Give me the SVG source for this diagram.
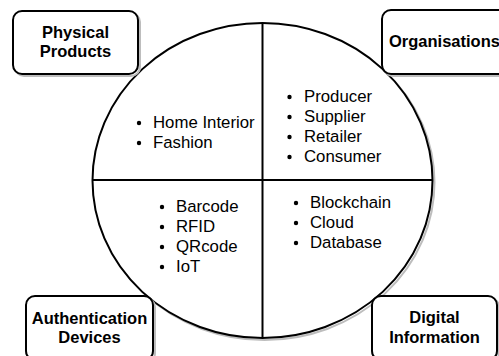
<svg xmlns="http://www.w3.org/2000/svg" width="499" height="356" viewBox="0 0 499 356">
  <style>
    .shadow { fill: none; stroke: #bdbdbd; stroke-width: 2; }
    .edge { stroke: #000; stroke-width: 2; }
    .box { fill: #fff; stroke: #000; stroke-width: 2; }
    .title { font-family: "Liberation Sans", Arial, sans-serif; font-weight: bold; font-size: 16.5px; fill: #000; text-anchor: middle; }
    .item { font-family: "Liberation Sans", Arial, sans-serif; font-size: 16.8px; fill: #000; }
    .dot { fill: #000; }
  </style>
  <rect width="499" height="356" fill="#fff"/>

  <!-- central split ellipse -->
  <g id="hub">
    <ellipse class="shadow" cx="264.5" cy="182.5" rx="170" ry="157.5"/>
    <ellipse cx="262.5" cy="180.5" rx="170" ry="157.5" fill="#fff" class="edge"/>
  </g>
  <g id="connectors">
    <line class="edge" x1="262.5" y1="23" x2="262.5" y2="338"/>
    <line class="edge" x1="92.5" y1="180" x2="432.5" y2="180"/>
  </g>

  <!-- quadrant contents -->
  <g id="q-products">
    <circle class="dot" cx="139" cy="123" r="2.2"/>
    <text class="item" x="153" y="128">Home Interior</text>
    <circle class="dot" cx="139" cy="143" r="2.2"/>
    <text class="item" x="153" y="148">Fashion</text>
  </g>
  <g id="q-organisations">
    <circle class="dot" cx="289.5" cy="97" r="2.2"/>
    <text class="item" x="304" y="102">Producer</text>
    <circle class="dot" cx="289.5" cy="117" r="2.2"/>
    <text class="item" x="304" y="122">Supplier</text>
    <circle class="dot" cx="289.5" cy="137" r="2.2"/>
    <text class="item" x="304" y="142">Retailer</text>
    <circle class="dot" cx="289.5" cy="157" r="2.2"/>
    <text class="item" x="304" y="162">Consumer</text>
  </g>
  <g id="q-devices">
    <circle class="dot" cx="162" cy="207" r="2.2"/>
    <text class="item" x="176" y="212">Barcode</text>
    <circle class="dot" cx="162" cy="227" r="2.2"/>
    <text class="item" x="176" y="232">RFID</text>
    <circle class="dot" cx="162" cy="247" r="2.2"/>
    <text class="item" x="176" y="252">QRcode</text>
    <circle class="dot" cx="162" cy="267" r="2.2"/>
    <text class="item" x="176" y="272">IoT</text>
  </g>
  <g id="q-digital">
    <circle class="dot" cx="296" cy="203" r="2.2"/>
    <text class="item" x="310" y="208">Blockchain</text>
    <circle class="dot" cx="296" cy="223" r="2.2"/>
    <text class="item" x="310" y="228">Cloud</text>
    <circle class="dot" cx="296" cy="243" r="2.2"/>
    <text class="item" x="310" y="248">Database</text>
  </g>

  <!-- corner category labels -->
  <g id="physical-products">
    <rect class="shadow" x="15" y="13" width="125" height="63" rx="9"/>
    <rect class="box" x="13" y="11" width="125" height="63" rx="9"/>
    <text class="title" x="75.5" y="38">Physical</text>
    <text class="title" x="75.5" y="57">Products</text>
  </g>
  <g id="organisations">
    <rect class="shadow" x="384" y="12" width="125" height="64" rx="9"/>
    <rect class="box" x="382" y="10" width="125" height="64" rx="9"/>
    <text class="title" x="444.5" y="47">Organisations</text>
  </g>
  <g id="authentication-devices">
    <rect class="shadow" x="28" y="298" width="127" height="64" rx="9"/>
    <rect class="box" x="26" y="296" width="127" height="64" rx="9"/>
    <text class="title" x="89.5" y="324">Authentication</text>
    <text class="title" x="89.5" y="343">Devices</text>
  </g>
  <g id="digital-information">
    <rect class="shadow" x="374" y="298" width="125" height="64" rx="9"/>
    <rect class="box" x="372" y="296" width="125" height="64" rx="9"/>
    <text class="title" x="434.5" y="323">Digital</text>
    <text class="title" x="434.5" y="343">Information</text>
  </g>
</svg>
